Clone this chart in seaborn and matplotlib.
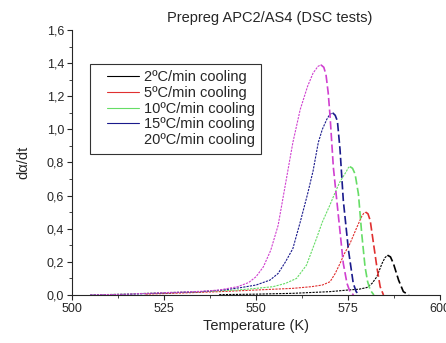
import matplotlib
matplotlib.use("Agg")
import matplotlib.pyplot as plt
import seaborn as sns
from matplotlib.lines import Line2D
from matplotlib.legend_handler import HandlerLine2D
from matplotlib.ticker import MultipleLocator, FuncFormatter

# DSC curves: temperature (K) and d(alpha)/dt
labels = ["2ºC/min cooling", "5ºC/min cooling", "10ºC/min cooling",
          "15ºC/min cooling", "20ºC/min cooling"]
colors = ["#000000", "#e03030", "#66dd66", "#1a1a8c", "#d040d0"]

t_2 = [540, 550, 560, 570, 575, 578, 580.1, 581.5, 582.8, 584.2, 585, 585.7, 586.5, 587.3, 588.7, 590, 591.5]
v_2 = [0.002, 0.005, 0.01, 0.02, 0.03, 0.035, 0.045, 0.07, 0.11, 0.19, 0.225, 0.24, 0.23, 0.19, 0.09, 0.02, 0]

t_5 = [520, 530, 540, 550, 560, 565, 568, 570.1, 571.5, 572.8, 574, 575.5, 577.4, 578.7, 579.3, 579.8,
       580.4, 581, 581.9, 582.8, 583.7, 584.6]
v_5 = [0.005, 0.012, 0.02, 0.03, 0.04, 0.05, 0.06, 0.08, 0.13, 0.19, 0.25, 0.31, 0.41, 0.475, 0.495, 0.50,
       0.49, 0.45, 0.31, 0.17, 0.05, 0]

t_10 = [505, 515, 525, 535, 545, 550, 554.6, 558, 561, 563.7, 566.4, 568, 570, 571.5, 572.7, 573.8, 574.5,
        575.1, 575.5, 576.2, 576.9, 577.8, 578.7, 579.6, 580.3, 581, 582]
v_10 = [0, 0.006, 0.014, 0.02, 0.03, 0.04, 0.05, 0.07, 0.10, 0.18, 0.34, 0.44, 0.54, 0.62, 0.68, 0.72, 0.745,
        0.77, 0.775, 0.765, 0.73, 0.61, 0.37, 0.17, 0.08, 0.03, 0]

t_15 = [505, 515, 525, 535, 541, 546, 550, 553.8, 556, 558, 560, 562, 564, 565.5, 566.9, 568, 569.2, 570,
        570.8, 571.5, 572.1, 572.8, 573.7, 575.1, 576.4, 577.2, 578]
v_15 = [0, 0.004, 0.012, 0.02, 0.03, 0.045, 0.06, 0.09, 0.13, 0.2, 0.28, 0.44, 0.61, 0.75, 0.92, 1.0, 1.06, 1.09,
        1.10, 1.085, 1.05, 0.88, 0.57, 0.27, 0.07, 0.02, 0]

t_20 = [505, 515, 525, 535, 540, 545, 548, 550, 552, 554, 556, 558, 560, 562, 564, 565.5, 566.8, 567.6,
        568.4, 569, 569.6, 570.1, 571, 572.4, 573.7, 574.7, 575.5, 576.5]
v_20 = [0, 0.005, 0.014, 0.022, 0.03, 0.05, 0.075, 0.11, 0.17, 0.27, 0.42, 0.67, 0.92, 1.12, 1.26, 1.34, 1.38, 1.39,
        1.375, 1.33, 1.22, 1.08, 0.77, 0.47, 0.19, 0.07, 0.02, 0]

series = [(t_2, v_2), (t_5, v_5), (t_10, v_10), (t_15, v_15), (t_20, v_20)]

sns.set_style("ticks")
plt.rcParams["font.family"] = ["Liberation Sans", "DejaVu Sans"]

fig = plt.figure(figsize=(4.46, 3.43), dpi=100)
ax = fig.add_axes([0.161, 0.14, 0.826, 0.7725])

for (t, v), c in zip(series, colors):
    k = v.index(max(v))
    # rising part drawn fine, falling part with longer dashes
    sns.lineplot(x=t[:k + 1], y=v[:k + 1], ax=ax, color=c, lw=0.8,
                 linestyle=(0, (2, 1)), sort=False, legend=False)
    sns.lineplot(x=t[k:], y=v[k:], ax=ax, color=c, lw=1.2,
                 linestyle=(0, (5, 2)), sort=False, legend=False)

ax.set_xlim(500, 600)
ax.set_ylim(0, 1.6)
ax.xaxis.set_major_locator(MultipleLocator(25))
ax.xaxis.set_minor_locator(MultipleLocator(12.5))
ax.yaxis.set_major_locator(MultipleLocator(0.2))
ax.yaxis.set_minor_locator(MultipleLocator(0.1))
ax.yaxis.set_major_formatter(FuncFormatter(lambda y, p: f"{y:.1f}".replace(".", ",")))
ax.tick_params(labelsize=9, width=0.8, length=3.5, pad=2)
ax.tick_params(which="minor", length=2, width=0.6)
sns.despine(ax=ax)
for s in ["left", "bottom"]:
    ax.spines[s].set_linewidth(0.8)

ax.set_xlabel("Temperature (K)", fontsize=10.5, labelpad=3)
ax.set_ylabel("dα/dt", fontsize=10.5, labelpad=12)
fig.text(270 / 446, 1 - 18 / 343, "Prepreg APC2/AS4 (DSC tests)",
         ha="center", va="center", fontsize=10.5)

handles = [Line2D([], [], color=c, lw=0.8) for c in colors[:4]]
handles.append(Line2D([], [], color="none", lw=0.8))
leg = ax.legend(handles, labels, loc="upper left", bbox_to_anchor=(0.049, 0.873),
                fontsize=10.5, frameon=True, fancybox=False, edgecolor="black",
                handlelength=2.9, handletextpad=0.35, borderpad=0.45,
                labelspacing=0.12, borderaxespad=0,
                handler_map={Line2D: HandlerLine2D(xpad=0.75)})
leg.get_frame().set_linewidth(0.8)

fig.savefig("out.png", dpi=100)
